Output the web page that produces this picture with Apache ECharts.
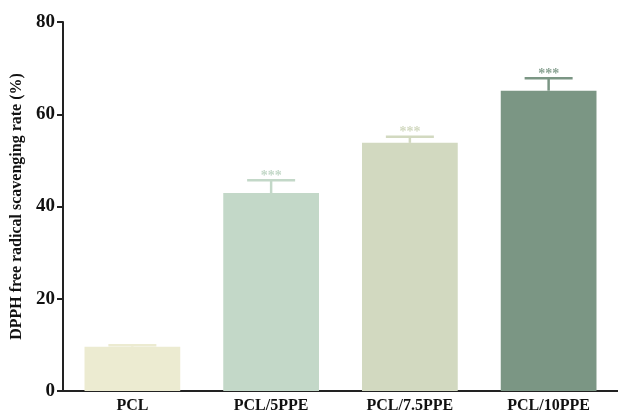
<!DOCTYPE html>
<html><head><meta charset="utf-8">
<script src="https://cdn.jsdelivr.net/npm/echarts@6/dist/echarts.min.js"></script>
<style>html,body{margin:0;padding:0;background:#fff}#c{width:618px;height:416px}</style>
</head><body><div id="c"></div>
<script>
var categories = ['PCL', 'PCL/5PPE', 'PCL/7.5PPE', 'PCL/10PPE'];
var values = [9.6, 42.9, 53.8, 65.1];
var errors = [0.3, 2.8, 1.3, 2.7];
var marks = ['', '***', '***', '***'];
var colors = ['#ECEBD1', '#C3D8C8', '#D2D9C0', '#7B9684'];
var starColors = ['#ECEBD1', '#C3D8C8', '#D2D9C0', '#8AA393'];
var yTicks = [0, 20, 40, 60, 80];

var chart = echarts.init(document.getElementById('c'));
var font = '"Liberation Serif", "Times New Roman", serif';
chart.setOption({
  animation: false,
  grid: {left: 63, right: 0, top: 22, bottom: 25},
  xAxis: {
    type: 'category', data: categories,
    axisLine: {lineStyle: {color: '#222', width: 2}},
    axisTick: {show: false},
    axisLabel: {color: '#111', fontFamily: font, fontWeight: 'bold', fontSize: 16, margin: 7}
  },
  yAxis: {
    type: 'value', min: yTicks[0], max: yTicks[yTicks.length - 1], interval: 20,
    name: 'DPPH free radical scavenging rate (%)', nameLocation: 'middle', nameGap: 36,
    nameTextStyle: {color: '#111', fontFamily: font, fontWeight: 'bold', fontSize: 16},
    axisLine: {show: true, lineStyle: {color: '#222', width: 2}},
    axisTick: {show: true, length: 6, lineStyle: {color: '#222', width: 2}},
    splitLine: {show: false},
    axisLabel: {color: '#111', fontFamily: font, fontWeight: 'bold', fontSize: 19, margin: 8}
  },
  series: [
    {
      type: 'bar', barWidth: '69%',
      data: values.map(function (v, i) { return {value: v, itemStyle: {color: colors[i]}}; }),
      z: 2
    },
    {
      type: 'custom', z: 3,
      data: values.map(function (v, i) { return [i, v, v + errors[i]]; }),
      renderItem: function (params, api) {
        var i = api.value(0);
        var p0 = api.coord([i, api.value(1)]);
        var p1 = api.coord([i, api.value(2)]);
        var half = 24;
        var col = colors[i];
        var children = [
          {type: 'line', shape: {x1: p0[0], y1: p0[1], x2: p1[0], y2: p1[1]}, style: {stroke: col, lineWidth: 2.5}},
          {type: 'line', shape: {x1: p1[0] - half, y1: p1[1], x2: p1[0] + half, y2: p1[1]}, style: {stroke: col, lineWidth: 2.5}}
        ];
        if (marks[i]) {
          children.push({type: 'text', x: p1[0], y: p1[1] + 3,
            style: {text: marks[i], fill: starColors[i], font: 'bold 14px ' + font, textAlign: 'center', textVerticalAlign: 'bottom'}});
        }
        return {type: 'group', children: children};
      }
    }
  ]
});
</script></body></html>
